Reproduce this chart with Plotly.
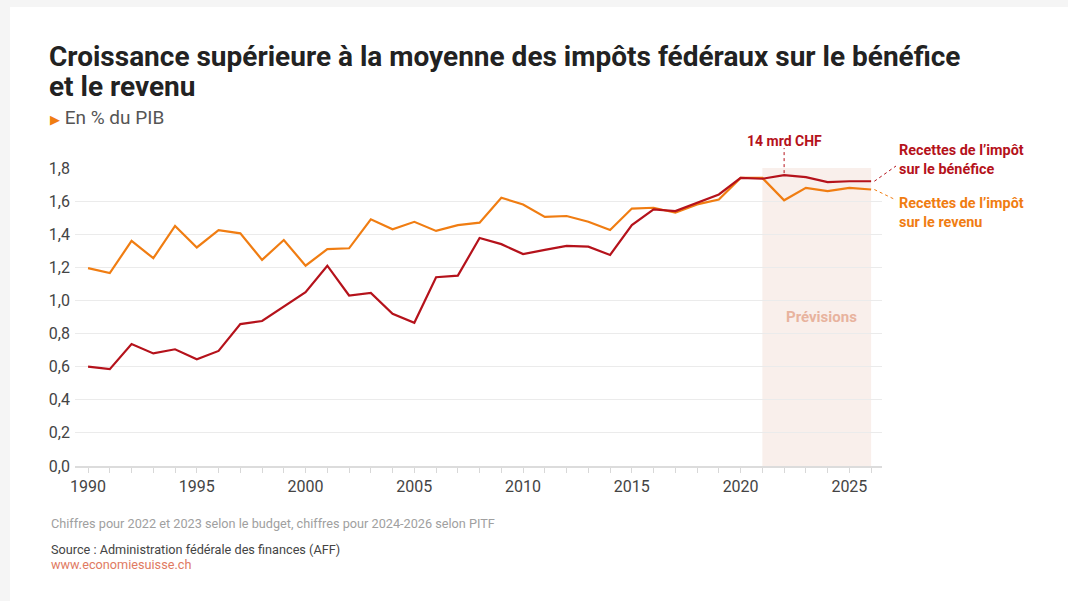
import plotly.graph_objects as go

years = list(range(1990, 2027))

benefice = [0.60, 0.585, 0.737, 0.68, 0.705, 0.645, 0.695, 0.857, 0.876, 0.965,
            1.05, 1.21, 1.03, 1.045, 0.92, 0.865, 1.14, 1.15, 1.377, 1.34,
            1.28, 1.305, 1.33, 1.325, 1.275, 1.455, 1.55, 1.54, 1.59, 1.64,
            1.74, 1.735, 1.757, 1.745, 1.715, 1.72, 1.72]

revenu = [1.195, 1.165, 1.36, 1.255, 1.45, 1.32, 1.425, 1.405, 1.245, 1.365,
          1.21, 1.31, 1.315, 1.49, 1.43, 1.475, 1.42, 1.455, 1.47, 1.62,
          1.58, 1.505, 1.51, 1.475, 1.425, 1.555, 1.56, 1.53, 1.58, 1.61,
          1.74, 1.74, 1.605, 1.68, 1.66, 1.68, 1.67]

y_ticks = [0.0, 0.2, 0.4, 0.6, 0.8, 1.0, 1.2, 1.4, 1.6, 1.8]
x_labels = [1990, 1995, 2000, 2005, 2010, 2015, 2020, 2025]

forecast_start = 2021
forecast_end = 2026
highlight_year = 2022

RED = '#b5121b'
ORANGE = '#f07d12'
FONT = 'Roboto'

W, H = 1068, 601
ML, MR, MT, MB = 75, 186, 168, 135
x_range = [1989.4, 2026.5]
PW = W - ML - MR
PH = H - MT - MB


def px_to_paper_x(px):
    return (px - ML) / PW


def px_to_paper_y(py):
    return (H - MB - py) / PH


def year_to_paper(year):
    return (year - x_range[0]) / (x_range[1] - x_range[0])


def value_to_px(v):
    return H - MB - v / y_ticks[-1] * PH


fig = go.Figure()

fig.add_trace(go.Scatter(
    x=years, y=revenu, mode='lines',
    line=dict(color=ORANGE, width=2.2),
    hoverinfo='skip', name='revenu',
))
fig.add_trace(go.Scatter(
    x=years, y=benefice, mode='lines',
    line=dict(color=RED, width=2.2),
    hoverinfo='skip', name='bénéfice',
))

shapes = [
    # white card over the grey page
    dict(type='rect', xref='paper', yref='paper', layer='below',
         x0=px_to_paper_x(10), x1=px_to_paper_x(W + 5),
         y0=px_to_paper_y(H + 5), y1=px_to_paper_y(7),
         fillcolor='white', line=dict(width=0)),
    # forecast band
    dict(type='rect', xref='x', yref='y', layer='below',
         x0=forecast_start, x1=forecast_end, y0=0, y1=y_ticks[-1],
         fillcolor='#f9efeb', line=dict(width=0)),
    # 14 mrd CHF connector
    dict(type='line', xref='x', yref='paper',
         x0=highlight_year, x1=highlight_year,
         y0=px_to_paper_y(value_to_px(benefice[years.index(highlight_year)]) - 2),
         y1=px_to_paper_y(148),
         line=dict(color=RED, width=1, dash='dot')),
    # right label connectors
    dict(type='line', xref='paper', yref='paper',
         x0=year_to_paper(years[-1]) + 0.004, x1=px_to_paper_x(896),
         y0=px_to_paper_y(value_to_px(benefice[-1])),
         y1=px_to_paper_y(166),
         line=dict(color=RED, width=1, dash='dot')),
    dict(type='line', xref='paper', yref='paper',
         x0=year_to_paper(years[-1]) + 0.004, x1=px_to_paper_x(896),
         y0=px_to_paper_y(value_to_px(revenu[-1])),
         y1=px_to_paper_y(200),
         line=dict(color=ORANGE, width=1, dash='dot')),
]

title_lines = ['Croissance supérieure à la moyenne des impôts fédéraux sur le bénéfice',
               'et le revenu']

annotations = [
    dict(xref='paper', yref='paper', x=px_to_paper_x(47), y=px_to_paper_y(57),
         xanchor='left', yanchor='middle', showarrow=False,
         text='<b>' + title_lines[0] + '</b>',
         font=dict(family=FONT, size=28, color='#222222')),
    dict(xref='paper', yref='paper', x=px_to_paper_x(47), y=px_to_paper_y(86),
         xanchor='left', yanchor='middle', showarrow=False,
         text='<b>' + title_lines[1] + '</b>',
         font=dict(family=FONT, size=28, color='#222222')),
    dict(xref='paper', yref='paper', x=px_to_paper_x(48), y=px_to_paper_y(118),
         xanchor='left', yanchor='middle', showarrow=False,
         text='<span style="color:' + ORANGE + ';font-size:13px">&#9654;</span> En % du PIB',
         font=dict(family=FONT, size=19, color='#555555')),
    dict(xref='x', yref='paper', x=highlight_year, y=px_to_paper_y(141),
         xanchor='center', yanchor='middle', showarrow=False,
         text='<b>14 mrd CHF</b>',
         font=dict(family=FONT, size=14, color=RED)),
    dict(xref='x', yref='y', x=(forecast_start + forecast_end) / 2 + 0.2, y=0.9,
         xanchor='center', yanchor='middle', showarrow=False,
         text='<b>Prévisions</b>',
         font=dict(family=FONT, size=15, color='#e8b39e')),
    dict(xref='paper', yref='paper', x=px_to_paper_x(897), y=px_to_paper_y(160),
         xanchor='left', yanchor='middle', showarrow=False, align='left',
         text='<b>Recettes de l’impôt<br>sur le bénéfice</b>',
         font=dict(family=FONT, size=14.4, color=RED)),
    dict(xref='paper', yref='paper', x=px_to_paper_x(897), y=px_to_paper_y(213),
         xanchor='left', yanchor='middle', showarrow=False, align='left',
         text='<b>Recettes de l’impôt<br>sur le revenu</b>',
         font=dict(family=FONT, size=14.4, color=ORANGE)),
    dict(xref='paper', yref='paper', x=px_to_paper_x(49), y=px_to_paper_y(523),
         xanchor='left', yanchor='middle', showarrow=False,
         text='Chiffres pour 2022 et 2023 selon le budget, chiffres pour 2024-2026 selon PITF',
         font=dict(family=FONT, size=12.7, color='#a0a0a0')),
    dict(xref='paper', yref='paper', x=px_to_paper_x(49), y=px_to_paper_y(549),
         xanchor='left', yanchor='middle', showarrow=False,
         text='Source : Administration fédérale des finances (AFF)',
         font=dict(family=FONT, size=12.7, color='#444444')),
    dict(xref='paper', yref='paper', x=px_to_paper_x(49), y=px_to_paper_y(564),
         xanchor='left', yanchor='middle', showarrow=False,
         text='www.economiesuisse.ch',
         font=dict(family=FONT, size=12.7, color='#e07a62')),
]

fig.update_layout(
    width=W, height=H,
    margin=dict(l=ML, r=MR, t=MT, b=MB),
    paper_bgcolor='#f5f5f5', plot_bgcolor='rgba(0,0,0,0)',
    showlegend=False, hovermode=False,
    separators=', ',
    font=dict(family=FONT, color='#444444'),
    xaxis=dict(
        range=x_range, tickmode='array', tickvals=years,
        ticktext=[str(y) if y in x_labels else '' for y in years],
        ticks='outside', ticklen=5, tickcolor='#d8d8d8',
        showgrid=False, zeroline=False,
        showline=True, linecolor='#dcdcdc', linewidth=1.5,
        tickfont=dict(size=16, color='#444444'),
    ),
    yaxis=dict(
        range=[0, y_ticks[-1]], tickmode='array', tickvals=y_ticks,
        tickformat='.1f', showgrid=True, gridcolor='#ebebeb', gridwidth=1,
        zeroline=False, showline=False, ticks='',
        tickfont=dict(size=16, color='#444444'), ticklabelstandoff=4,
    ),
    shapes=shapes,
    annotations=annotations,
)

fig.write_html('out.html', config={'displayModeBar': False},
               post_script='document.body.style.margin = "0";')
